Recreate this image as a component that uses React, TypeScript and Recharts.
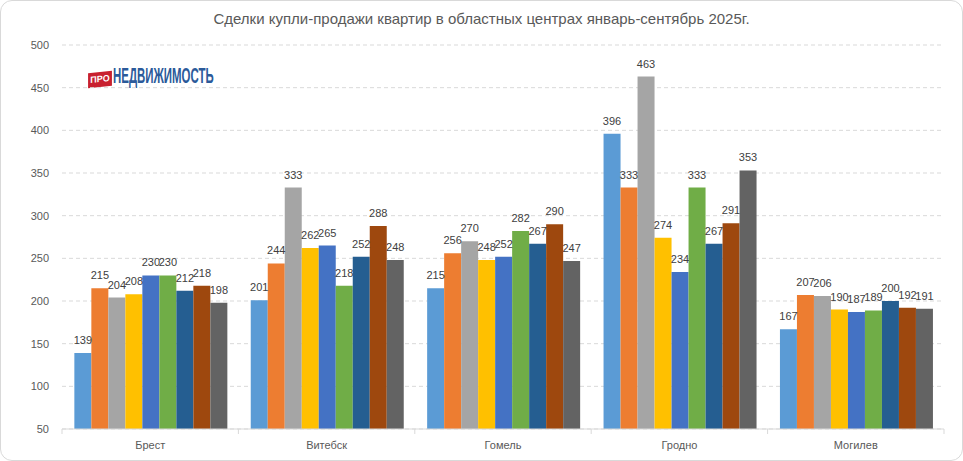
import { Bar, BarChart, CartesianGrid, LabelList, XAxis, YAxis } from "recharts";

const cities = ["Брест", "Витебск", "Гомель", "Гродно", "Могилев"];
const months = ["Январь", "Февраль", "Март", "Апрель", "Май", "Июнь", "Июль", "Август", "Сентябрь"];
const jan = [139, 201, 215, 396, 167];
const feb = [215, 244, 256, 333, 207];
const mar = [204, 333, 270, 463, 206];
const apr = [208, 262, 248, 274, 190];
const may = [230, 265, 252, 234, 187];
const jun = [230, 218, 282, 333, 189];
const jul = [212, 252, 267, 267, 200];
const aug = [218, 288, 290, 291, 192];
const sep = [198, 248, 247, 353, 191];
const yTicks = [50, 100, 150, 200, 250, 300, 350, 400, 450, 500];

const colors = ["#5B9BD5", "#ED7D31", "#A5A5A5", "#FFC000", "#4472C4", "#70AD47", "#255E91", "#9E480E", "#636363"];
const series = [jan, feb, mar, apr, may, jun, jul, aug, sep];

const data = cities.map((city, i) => {
  const row: Record<string, string | number> = { city };
  series.forEach((s, k) => {
    row["m" + k] = s[i];
  });
  return row;
});

const W = 963;
const H = 461;
const LEFT = 62;
const RIGHT = 19;
const X_H = 32;
const AXIS_Y = H - X_H;
const band = (W - LEFT - RIGHT) / cities.length;

function CityTick(props: any) {
  const { x, payload, index } = props;
  return (
    <g>
      <line x1={x - band / 2} x2={x - band / 2} y1={AXIS_Y} y2={AXIS_Y + 5} stroke="#d9d9d9" />
      {index === cities.length - 1 && (
        <line x1={x + band / 2} x2={x + band / 2} y1={AXIS_Y} y2={AXIS_Y + 5} stroke="#d9d9d9" />
      )}
      <text x={x} y={AXIS_Y + 20} textAnchor="middle" fontSize={11} fill="#595959" fontFamily="Liberation Sans">
        {payload.value}
      </text>
    </g>
  );
}

export default function App() {
  return (
    <div style={{ position: "relative", width: W, height: H, background: "#fff", fontFamily: "Liberation Sans" }}>
      <style>{"body{margin:0}"}</style>
      <div
        style={{
          position: "absolute",
          left: 0,
          top: 0,
          width: W - 2,
          height: H - 2,
          border: "1px solid #d9d9d9",
          borderRadius: 12,
        }}
      />
      <div
        style={{
          position: "absolute",
          left: 0,
          top: 10,
          width: W,
          textAlign: "center",
          fontSize: 15,
          color: "#595959",
        }}
      >
        Сделки купли-продажи квартир в областных центрах январь-сентябрь 2025г.
      </div>
      {/* логотип */}
      <div
        style={{
          position: "absolute",
          left: 88,
          top: 72,
          width: 24,
          height: 15,
          background: "#c8202f",
          transform: "rotate(-6deg) skewX(-6deg)",
          color: "#fff",
          fontSize: 9,
          fontWeight: 700,
          lineHeight: "15px",
          textAlign: "center",
        }}
      >
        ПРО
      </div>
      <div
        style={{
          position: "absolute",
          left: 113,
          top: 64,
          color: "#2b5a9a",
          fontSize: 22,
          lineHeight: "24px",
          fontWeight: 700,
          whiteSpace: "nowrap",
          transform: "scaleX(0.52)",
          transformOrigin: "left center",
        }}
      >
        НЕДВИЖИМОСТЬ
      </div>
      <div style={{ position: "absolute", left: 0, top: 0 }}>
        <BarChart
          width={W}
          height={H}
          data={data}
          margin={{ top: 45, right: RIGHT, left: 0, bottom: 0 }}
          barCategoryGap="7%"
          barGap={0}
        >
          <CartesianGrid vertical={false} stroke="#d9d9d9" strokeDasharray="4 3" />
          <XAxis
            dataKey="city"
            height={X_H}
            axisLine={{ stroke: "#d9d9d9" }}
            tickLine={false}
            tick={<CityTick />}
            interval={0}
          />
          <YAxis
            width={LEFT}
            domain={[50, 500]}
            ticks={yTicks}
            axisLine={false}
            tickLine={false}
            tickSize={0}
            tickMargin={13}
            tick={{ fontSize: 11, fill: "#595959", fontFamily: "Liberation Sans" }}
          />
          {months.map((m, k) => (
            <Bar key={m} dataKey={"m" + k} name={m} fill={colors[k]} isAnimationActive={false}>
              <LabelList
                dataKey={"m" + k}
                position="top"
                offset={9}
                fontSize={11}
                fill="#404040"
                fontFamily="Liberation Sans"
              />
            </Bar>
          ))}
        </BarChart>
      </div>
    </div>
  );
}
